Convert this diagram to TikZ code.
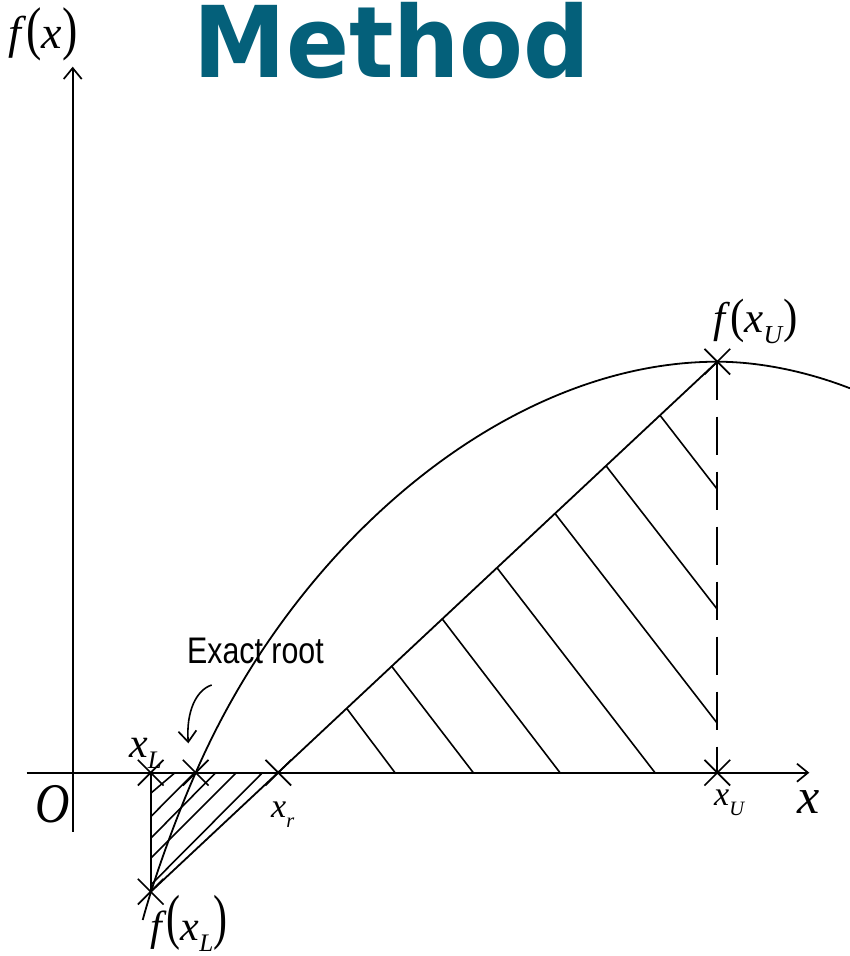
\documentclass[tikz,border=0pt]{standalone}
\usepackage{fontspec}
\usepackage{graphicx}
\setmainfont{Liberation Serif}
\newfontfamily\titlefont{DejaVu Sans}
\newfontfamily\labelsans{Liberation Sans}
\usetikzlibrary{arrows.meta,shapes.misc,calc}
\definecolor{titleteal}{RGB}{4,96,122}
\newcommand\tallp[3]{\raisebox{#2}{\scalebox{1}[#1]{#3}}}
\newcommand\subsc[2]{\raisebox{#1}{\scalebox{0.6}{\textit{#2}}}}
\newcommand\fsz[1]{\fontsize{#1}{#1}\selectfont}
\begin{document}
\begin{tikzpicture}[x=1pt,y=-1pt,
  line/.style={line width=1.8pt},
  hatch/.style={line width=1.6pt},
  xmark/.style={draw, cross out, minimum size=24pt, inner sep=0pt, line width=1.7pt},
  lbl/.style={inner sep=0pt, anchor=base west},
  barb/.style={-{Straight Barb[length=11pt,width=18pt,line width=1.7pt]}}
]
\useasboundingbox (0,0) rectangle (850,956);
\fill[white] (0,0) rectangle (850,956);

% key points
\coordinate (yB) at (72.7,831.7);
\coordinate (yT) at (72.7,66.7);
\coordinate (xA) at (26.7,772.7);
\coordinate (xB) at (809.3,772.7);
\coordinate (xL) at (150.7,772.7);
\coordinate (xR) at (278.3,772.7);
\coordinate (xE) at (195.7,772.7);
\coordinate (xU) at (717.3,772.7);
\coordinate (fL) at (150.7,891.7);
\coordinate (fU) at (717.3,361.7);
\coordinate (cS) at (142.7,920);
\coordinate (cE) at (850,388.3);

% title
\node[anchor=base, inner sep=0pt, text=titleteal, font=\titlefont\bfseries\fsz{99}] (title) at (392,77) {\scalebox{0.94}[1]{Method}};

% axes
\draw[line, barb] (xA) -- (xB);
\draw[line, barb] (yB) -- (yT);

% function curve
\draw[line] (cS) .. controls (154,878) and (177,815) .. (xE)
  .. controls (295.7,542.7) and (507.3,361.7) .. (fU)
  .. controls (762.3,361.7) and (810,372.7) .. (cE);

% secant, vertical and dashed lines
\draw[line] (fL) -- (fU);
\draw[line] (xL) -- (fL);
\draw[line, dash pattern=on 38pt off 17pt] (fU) -- (xU);

% hatching, small triangle
\draw[hatch] (150.7,793.3) -- (175,772.7);
\draw[hatch] (150.7,816.7) -- (194.5,772.7);
\draw[hatch] (150.7,838.3) -- (215.7,772.7);
\draw[hatch] (150.7,858.3) -- (236.3,772.7);
\draw[hatch] (150.7,885) -- (262.4,772.7);

% hatching, large triangle
\draw[hatch] (346.7,708.4) -- (395,772.7);
\draw[hatch] (391.7,666.3) -- (473.3,772.7);
\draw[hatch] (442.3,619.0) -- (560,772.7);
\draw[hatch] (497,567.8) -- (655,772.7);
\draw[hatch] (555,513.5) -- (717.3,723.3);
\draw[hatch] (606,465.8) -- (717.3,609.3);
\draw[hatch] (660,415.3) -- (717.3,489.3);

% crosses
\node[xmark] (cxL) at (xL) {};
\node[xmark] (cxE) at (xE) {};
\node[xmark] (cxR) at (xR) {};
\node[xmark] (cxU) at (xU) {};
\node[xmark] (cfL) at (fL) {};
\node[xmark] (cfU) at (fU) {};

% exact root label and arrow
\node[lbl, font=\labelsans\fsz{37}] (exact) at (187,663.3) {\scalebox{0.82}[1]{Exact root}};
\coordinate (arS) at (211.7,685);
\coordinate (arE) at (188.3,743.3);
\draw[hatch, barb] (arS) .. controls (196,690) and (186,712) .. (arE);

% labels
\node[lbl, font=\fsz{46}] (lfx) at (8,48) {\textit{f}\tallp{1.28}{0pt}{(}\textit{x}\tallp{1.28}{0pt}{)}};
\node[lbl, font=\fsz{56}] (lO) at (35,822) {\scalebox{0.85}[1]{\textit{O}}};
\node[lbl, font=\fsz{42}] (lxL) at (129,757) {\textit{x}\subsc{-0.27em}{L}};
\node[lbl, font=\fsz{34}] (lxr) at (271,817) {\textit{x}\subsc{-0.3em}{r}};
\node[lbl, font=\fsz{42}] (lfL) at (150,940) {\textit{f}\tallp{1.45}{3pt}{(}\textit{x}\subsc{-0.27em}{L}\tallp{1.45}{3pt}{)}};
\node[lbl, font=\fsz{43}] (lfU) at (713,332) {\textit{f}\tallp{1.12}{0pt}{(}\textit{x}\subsc{-0.26em}{U}\tallp{1.12}{0pt}{)}};
\node[lbl, font=\fsz{34}] (lxU) at (714,805) {\textit{x}\subsc{-0.3em}{U}};
\node[lbl, font=\fsz{50}] (lx) at (797,813) {\textit{x}};
\end{tikzpicture}
\end{document}
